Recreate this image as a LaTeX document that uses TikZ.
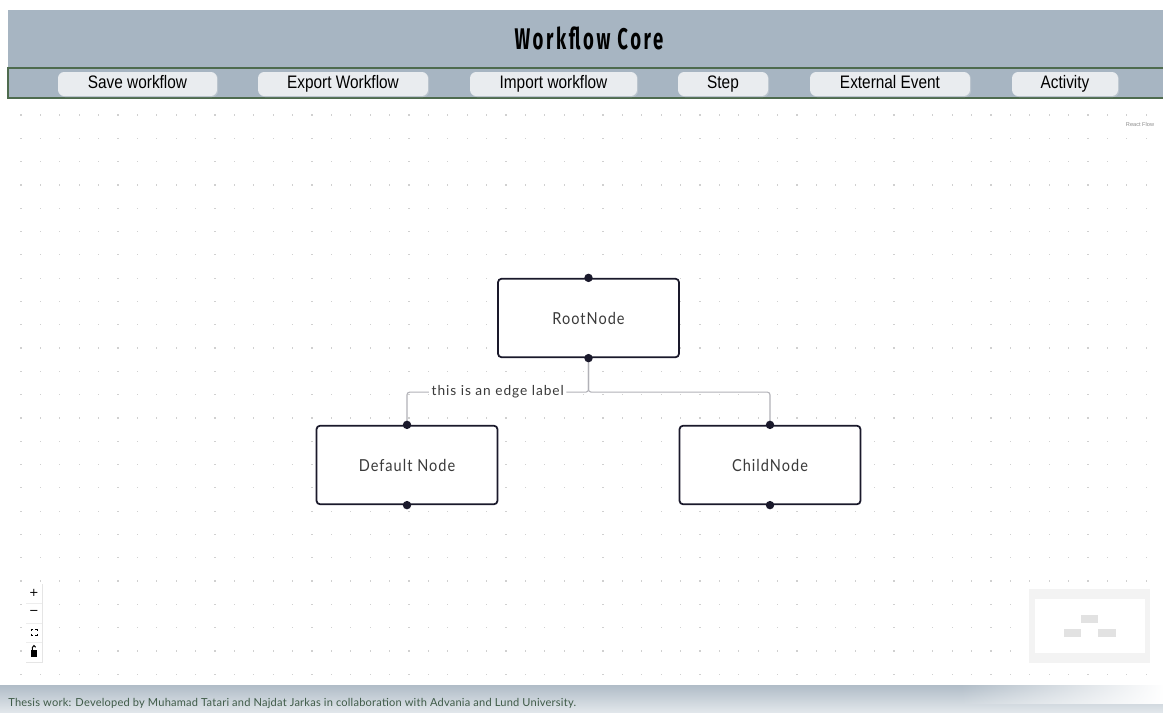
\documentclass[tikz,border=0pt]{standalone}
\usepackage{fontspec}
\usepackage{graphicx}
\setmainfont{Liberation Sans}
\newfontfamily\nodefont[LetterSpace=7]{Lato}
\newfontfamily\footfont[LetterSpace=2]{Lato}
\newfontfamily\titlefont[LetterSpace=14]{Fira Sans}
\newfontfamily\symfont{DejaVu Sans}
\usetikzlibrary{shadows,fadings}

\definecolor{hdr}{HTML}{A7B5C2}
\definecolor{hdrline}{HTML}{4E6B4E}
\definecolor{btn}{HTML}{E9ECEF}
\definecolor{btnshadow}{HTML}{BFC8D0}
\definecolor{ink}{HTML}{1A192B}
\definecolor{labeltext}{HTML}{3A3A3A}
\definecolor{edgegray}{HTML}{B1B1B7}
\definecolor{dotgray}{HTML}{D0D0D0}
\definecolor{foottext}{HTML}{3F5B48}
\definecolor{footA}{HTML}{B0BCC7}
\definecolor{footB}{HTML}{E3E8EC}
\definecolor{mini}{HTML}{E2E2E2}
\definecolor{miniframe}{HTML}{F3F3F3}

\tikzfading[name=fadetoright, left color=transparent!100, right color=transparent!0]

% narrow set text, as the toolbar and canvas labels are condensed
\newcommand{\narrowtext}[2]{\scalebox{#1}[1]{#2}}

\tikzset{
  btnbox/.style={fill=btn, rounded corners=3.5pt, minimum height=0.48cm,
    inner sep=0pt, text height=7.4pt, text depth=2.2pt,
    font=\fontsize{10.3}{12}\selectfont,
    drop shadow={shadow xshift=0.6pt, shadow yshift=-0.6pt, fill=btnshadow, opacity=0.8}},
  flownode/.style={draw=ink, line width=1pt, rounded corners=2pt, fill=white,
    minimum width=3.62cm, minimum height=1.57cm, inner sep=0pt,
    font=\nodefont\fontsize{9.4}{11}\selectfont, text=labeltext},
  edgeline/.style={draw=edgegray, line width=0.6pt, rounded corners=1.5pt},
  edgelabel/.style={fill=white, inner sep=1.5pt, text=labeltext,
    font=\nodefont\fontsize{7.8}{9}\selectfont},
  handle/.style={fill=ink},
  ctrlicon/.style={font=\symfont\fontsize{6.5}{7}\selectfont, inner sep=0pt},
}

\begin{document}
\begin{tikzpicture}[x={(0.02cm,0)}, y={(0,-0.02cm)}]
  \useasboundingbox (0,0) rectangle (1163,713);
  \fill[white] (0,0) rectangle (1163,713);

  % dotted canvas background
  \foreach \i in {0,...,58}
    \foreach \j in {0,...,24}
      \fill[dotgray] ({21+19.4*\i-0.6},{115+23.3*\j-0.6}) rectangle ++(1.2,1.2);

  % header and toolbar
  \fill[hdr] (8,10) rectangle (1163,98);
  \draw[hdrline, line width=0.8pt] (1163,68) -- (8,68) -- (8,98) -- (1163,98);
  \node[font=\titlefont\bfseries\fontsize{17}{20}\selectfont, xscale=0.62] (title) at (589,38) {Workflow Core};

  \node[btnbox, minimum width=3.18cm] (save) at (137.5,84) {\narrowtext{0.85}{Save workflow}};
  \node[btnbox, minimum width=3.40cm] (export) at (343,84) {\narrowtext{0.85}{Export Workflow}};
  \node[btnbox, minimum width=3.34cm] (import) at (553.5,84) {\narrowtext{0.85}{Import workflow}};
  \node[btnbox, minimum width=1.80cm] (stepbtn) at (723,84) {\narrowtext{0.85}{Step}};
  \node[btnbox, minimum width=3.20cm] (extevent) at (890,84) {\narrowtext{0.85}{External Event}};
  \node[btnbox, minimum width=2.12cm] (activity) at (1065,84) {\narrowtext{0.85}{Activity}};

  % flow nodes
  \node[flownode] (root) at (588.5,318) {\narrowtext{0.88}{RootNode}};
  \node[flownode] (def) at (407,465) {\narrowtext{0.88}{Default Node}};
  \node[flownode] (child) at (770,465) {\narrowtext{0.88}{ChildNode}};

  % edges
  \draw[edgeline] (root.south) -- ++(0,34) -| node[edgelabel, pos=0.25] (elabel) {this is an edge label} (def.north);
  \draw[edgeline] (root.south) -- ++(0,34) -| (child.north);

  % handles
  \foreach \n in {root,def,child} {
    \fill[handle] (\n.north) circle (2.4pt);
    \fill[handle] (\n.south) circle (2.4pt);
  }

  % attribution
  \node[font=\fontsize{3.2}{4}\selectfont, text=black!45, inner sep=0pt] (attrib) at (1140,124) {React Flow};

  % zoom controls
  \fill[black!10] (25.5,583.5) rectangle (43,663);
  \fill[white] (26,584) rectangle (42,662);
  \foreach \yy in {603.5,623,642.5}
    \draw[black!7, line width=0.3pt] (26,\yy) -- (42,\yy);
  \node[ctrlicon] (zoomin) at (34,593) {+};
  \node[ctrlicon] (zoomout) at (34,612.5) {−};
  \begin{scope}[line width=0.45pt]
    \draw (31,631) -- (31,629.5) -- (32.6,629.5);
    \draw (35.4,629.5) -- (37,629.5) -- (37,631);
    \draw (31,633.5) -- (31,635) -- (32.6,635);
    \draw (35.4,635) -- (37,635) -- (37,633.5);
  \end{scope}
  \fill (31.4,650) rectangle (36.6,656.5);
  \draw[line width=0.6pt] (32.4,650) -- (32.4,647.5) .. controls (32.4,645) and (35.4,645) .. (35.6,647.2);

  % minimap
  \fill[miniframe] (1029,589) rectangle (1150,663);
  \fill[white] (1035,599) rectangle (1145,653);
  \fill[mini] (1081,615) rectangle (1098,623);
  \fill[mini] (1064,629) rectangle (1081,637);
  \fill[mini] (1098,629) rectangle (1116,637);

  % footer
  \shade[top color=footA, bottom color=footB] (0,685) rectangle (1163,713);
  \fill[white, path fading=fadetoright] (960,685) rectangle (1163,704);
  \node[anchor=west, inner sep=0pt, font=\footfont\fontsize{6.3}{8}\selectfont, text=foottext] (foot) at (8,703)
    {Thesis work: Developed by Muhamad Tatari and Najdat Jarkas in collaboration with Advania and Lund University.};
\end{tikzpicture}
\end{document}
